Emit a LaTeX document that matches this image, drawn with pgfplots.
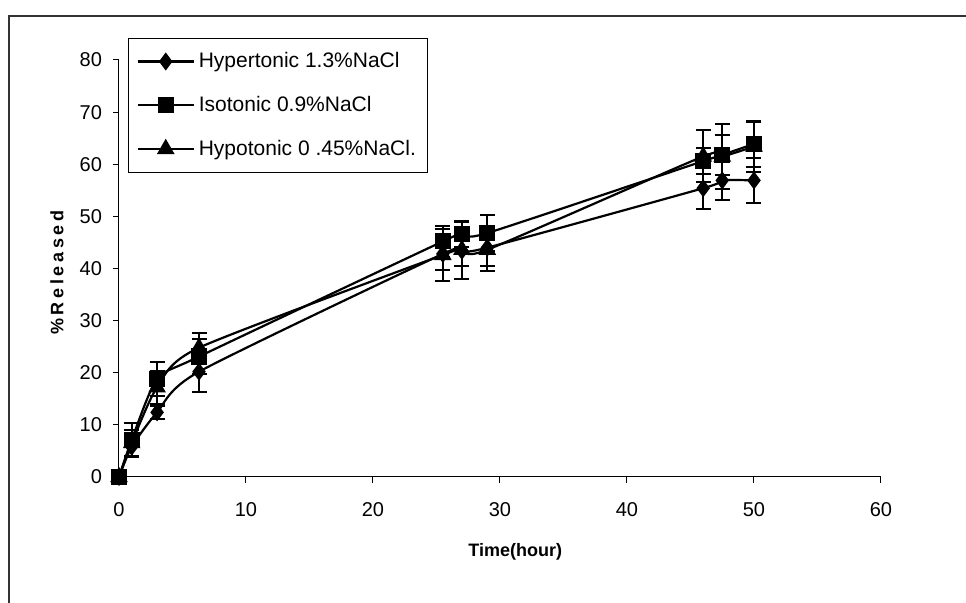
\documentclass[border=0pt]{standalone}
\usepackage{pgfplots}
\pgfplotsset{compat=1.18}
\usepackage{pgfplotstable}
\usepackage{fontspec}
\setmainfont{Liberation Sans}
\setsansfont{Liberation Sans}
\newfontfamily\spaced[LetterSpace=20]{Liberation Sans}

\pgfplotstableread{
x y e
0 0 0
1 5.8 2
3 12.4 1.2
6.3 20.2 3.8
25.5 42.8 3
27 43.4 3
29 44 3.5
46 55.4 4
47.5 56.9 3.8
50 56.9 4.3
}\hyper

\pgfplotstableread{
x y e
0 0 0
1 7.1 3.3
3 18.8 3.2
6.3 23.1 3.4
25.5 45.2 3
27 46.6 2.4
29 46.8 3.5
46 60.6 2.5
47.5 61.8 3.8
50 63.9 4.4
}\iso

\pgfplotstableread{
x y e
0 0 0
1 6.5 2.5
3 17.2 3.2
6.3 24.8 2.8
25.5 42.6 5
27 43.6 5.6
29 43.6 4
46 61.5 5
47.5 61.5 6.2
50 63.4 4.8
}\hypo

\begin{document}
\begin{tikzpicture}
\useasboundingbox (-59.5pt,-63pt) rectangle (423.5pt,238.5pt);
\draw[line width=0.6pt,black!80] (-55pt,-63pt) -- (-55pt,230.5pt) -- (423.5pt,230.5pt);
\begin{axis}[
  scale only axis,
  width=381pt, height=208.5pt,
  xmin=0, xmax=60, ymin=0, ymax=80,
  xtick={0,10,...,60}, ytick={0,10,...,80},
  axis lines*=left,
  axis line style={line width=0.5pt},
  tick align=outside,
  major tick length=3pt,
  tick style={black, line width=0.5pt},
  minor tick num=0,
  /pgf/number format/assume math mode=true,
  tick label style={font=\fontsize{10}{12}\selectfont},
  xticklabel style={yshift=-6pt},
  yticklabel style={xshift=-2pt},
  xlabel={\fontsize{9}{11}\selectfont\bfseries Time(hour)},
  ylabel={\fontsize{9}{11}\selectfont\bfseries\spaced \%Released},
  xlabel style={at={(axis description cs:0.52,0)}, anchor=center, yshift=-37.5pt},
  ylabel style={at={(axis description cs:-0.0814,0.49)}, anchor=center},
  clip=false,
  legend style={at={(0.012,1.053)}, anchor=north west, draw=black, line width=0.5pt,
    font=\fontsize{10.5}{12.6}\selectfont, row sep=8.75pt, inner xsep=4pt, inner ysep=5pt,
    cells={anchor=west}},
  legend cell align=left,
  legend image code/.code={\draw[mark repeat=2,mark phase=2,line width=1.1pt] plot coordinates {(0pt,0pt) (14pt,0pt) (28pt,0pt)};},
]
\addplot[black, line width=1.1pt, smooth, tension=0.4, mark=diamond*, mark size=3.6pt, mark options={solid, fill=black},
  error bars/.cd, y dir=both, y explicit,
  error mark options={black, rotate=90, mark size=3.75pt, line width=1pt},
  error bar style={black, line width=1pt}]
  table[x=x, y=y, y error=e] {\hyper};
\addlegendentry{Hypertonic 1.3\%NaCl}
\addplot[black, line width=1.1pt, smooth, tension=0.4, mark=square*, mark size=3.5pt, mark options={solid, fill=black},
  error bars/.cd, y dir=both, y explicit,
  error mark options={black, rotate=90, mark size=3.75pt, line width=1pt},
  error bar style={black, line width=1pt}]
  table[x=x, y=y, y error=e] {\iso};
\addlegendentry{Isotonic 0.9\%NaCl}
\addplot[black, line width=1.1pt, smooth, tension=0.4, mark=triangle*, mark size=4pt, mark options={solid, fill=black},
  error bars/.cd, y dir=both, y explicit,
  error mark options={black, rotate=90, mark size=3.75pt, line width=1pt},
  error bar style={black, line width=1pt}]
  table[x=x, y=y, y error=e] {\hypo};
\addlegendentry{Hypotonic 0 .45\%NaCl.}
\end{axis}
\end{tikzpicture}
\end{document}
